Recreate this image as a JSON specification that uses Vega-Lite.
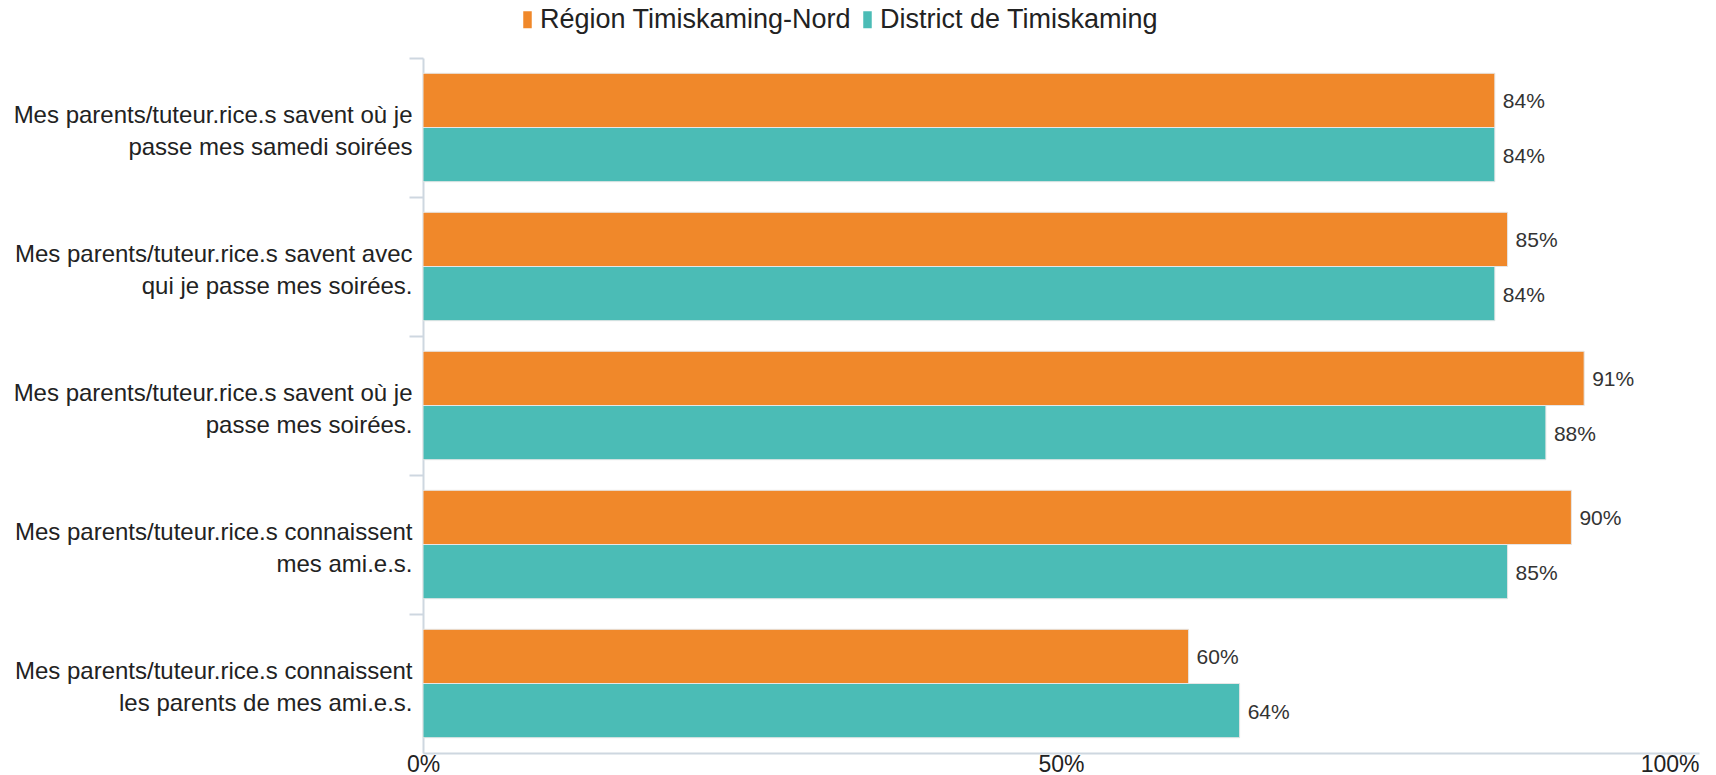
{
  "$schema": "https://vega.github.io/schema/vega-lite/v6.json",
  "autosize": {"type": "none"},
  "width": 1276,
  "height": 695,
  "padding": {"left": 423, "top": 58, "right": 17, "bottom": 22},
  "background": "white",
  "config": {"font": "Liberation Sans", "view": {"stroke": null}},
  "data": {
    "values": [
      {"item": "Mes parents/tuteur.rice.s savent où je|passe mes samedi soirées", "serie": "Région Timiskaming-Nord", "value": 0.84},
      {"item": "Mes parents/tuteur.rice.s savent où je|passe mes samedi soirées", "serie": "District de Timiskaming", "value": 0.84},
      {"item": "Mes parents/tuteur.rice.s savent avec|qui je passe mes soirées.", "serie": "Région Timiskaming-Nord", "value": 0.85},
      {"item": "Mes parents/tuteur.rice.s savent avec|qui je passe mes soirées.", "serie": "District de Timiskaming", "value": 0.84},
      {"item": "Mes parents/tuteur.rice.s savent où je|passe mes soirées.", "serie": "Région Timiskaming-Nord", "value": 0.91},
      {"item": "Mes parents/tuteur.rice.s savent où je|passe mes soirées.", "serie": "District de Timiskaming", "value": 0.88},
      {"item": "Mes parents/tuteur.rice.s connaissent|mes ami.e.s.", "serie": "Région Timiskaming-Nord", "value": 0.90},
      {"item": "Mes parents/tuteur.rice.s connaissent|mes ami.e.s.", "serie": "District de Timiskaming", "value": 0.85},
      {"item": "Mes parents/tuteur.rice.s connaissent|les parents de mes ami.e.s.", "serie": "Région Timiskaming-Nord", "value": 0.60},
      {"item": "Mes parents/tuteur.rice.s connaissent|les parents de mes ami.e.s.", "serie": "District de Timiskaming", "value": 0.64}
    ]
  },
  "encoding": {
    "y": {
      "field": "item",
      "type": "nominal",
      "sort": null,
      "scale": {"paddingInner": 0.22, "paddingOuter": 0.11},
      "axis": {
        "title": null,
        "labelExpr": "split(datum.label, '|')",
        "labelFontSize": 24,
        "labelColor": "#222222",
        "labelLineHeight": 32,
        "labelLimit": 600,
        "labelPadding": -3,
        "tickOffset": -69.5,
        "labelOffset": 57.5,
        "tickSize": 14,
        "tickColor": "#CED7E0",
        "tickWidth": 2,
        "domainColor": "#CED7E0",
        "domainWidth": 2,
        "grid": false
      }
    },
    "yOffset": {"field": "serie", "sort": ["Région Timiskaming-Nord", "District de Timiskaming"]},
    "x": {
      "field": "value",
      "type": "quantitative",
      "scale": {"domain": [0, 1]},
      "axis": {
        "title": null,
        "values": [0, 0.5, 1],
        "format": ".0%",
        "labelFontSize": 23,
        "labelColor": "#222222",
        "labelPadding": 0,
        "labelAlign": {"condition": {"test": "datum.value == 1", "value": "right"}, "value": "center"},
        "ticks": false,
        "grid": false,
        "domainColor": "#CED7E0",
        "domainWidth": 2
      }
    }
  },
  "layer": [
    {
      "mark": {"type": "bar", "stroke": "#E6E6E6", "strokeWidth": 1},
      "encoding": {
        "color": {
          "field": "serie",
          "type": "nominal",
          "scale": {"domain": ["Région Timiskaming-Nord", "District de Timiskaming"], "range": ["#F0882A", "#4BBCB6"]},
          "legend": {
            "orient": "none",
            "legendX": 91,
            "legendY": -52,
            "direction": "horizontal",
            "title": null,
            "symbolType": "M-0.5,-1H0.5V1H-0.5Z",
            "symbolSize": 289,
            "symbolStrokeWidth": 0,
            "labelFontSize": 27,
            "labelColor": "#222222",
            "labelOffset": -1,
            "columnPadding": 2,
            "padding": 0,
            "labelLimit": 600
          }
        }
      }
    },
    {
      "mark": {"type": "text", "align": "left", "baseline": "middle", "dx": 8, "dy": 2, "fontSize": 21, "color": "#333333"},
      "encoding": {"text": {"field": "value", "type": "quantitative", "format": ".0%"}}
    }
  ]
}
